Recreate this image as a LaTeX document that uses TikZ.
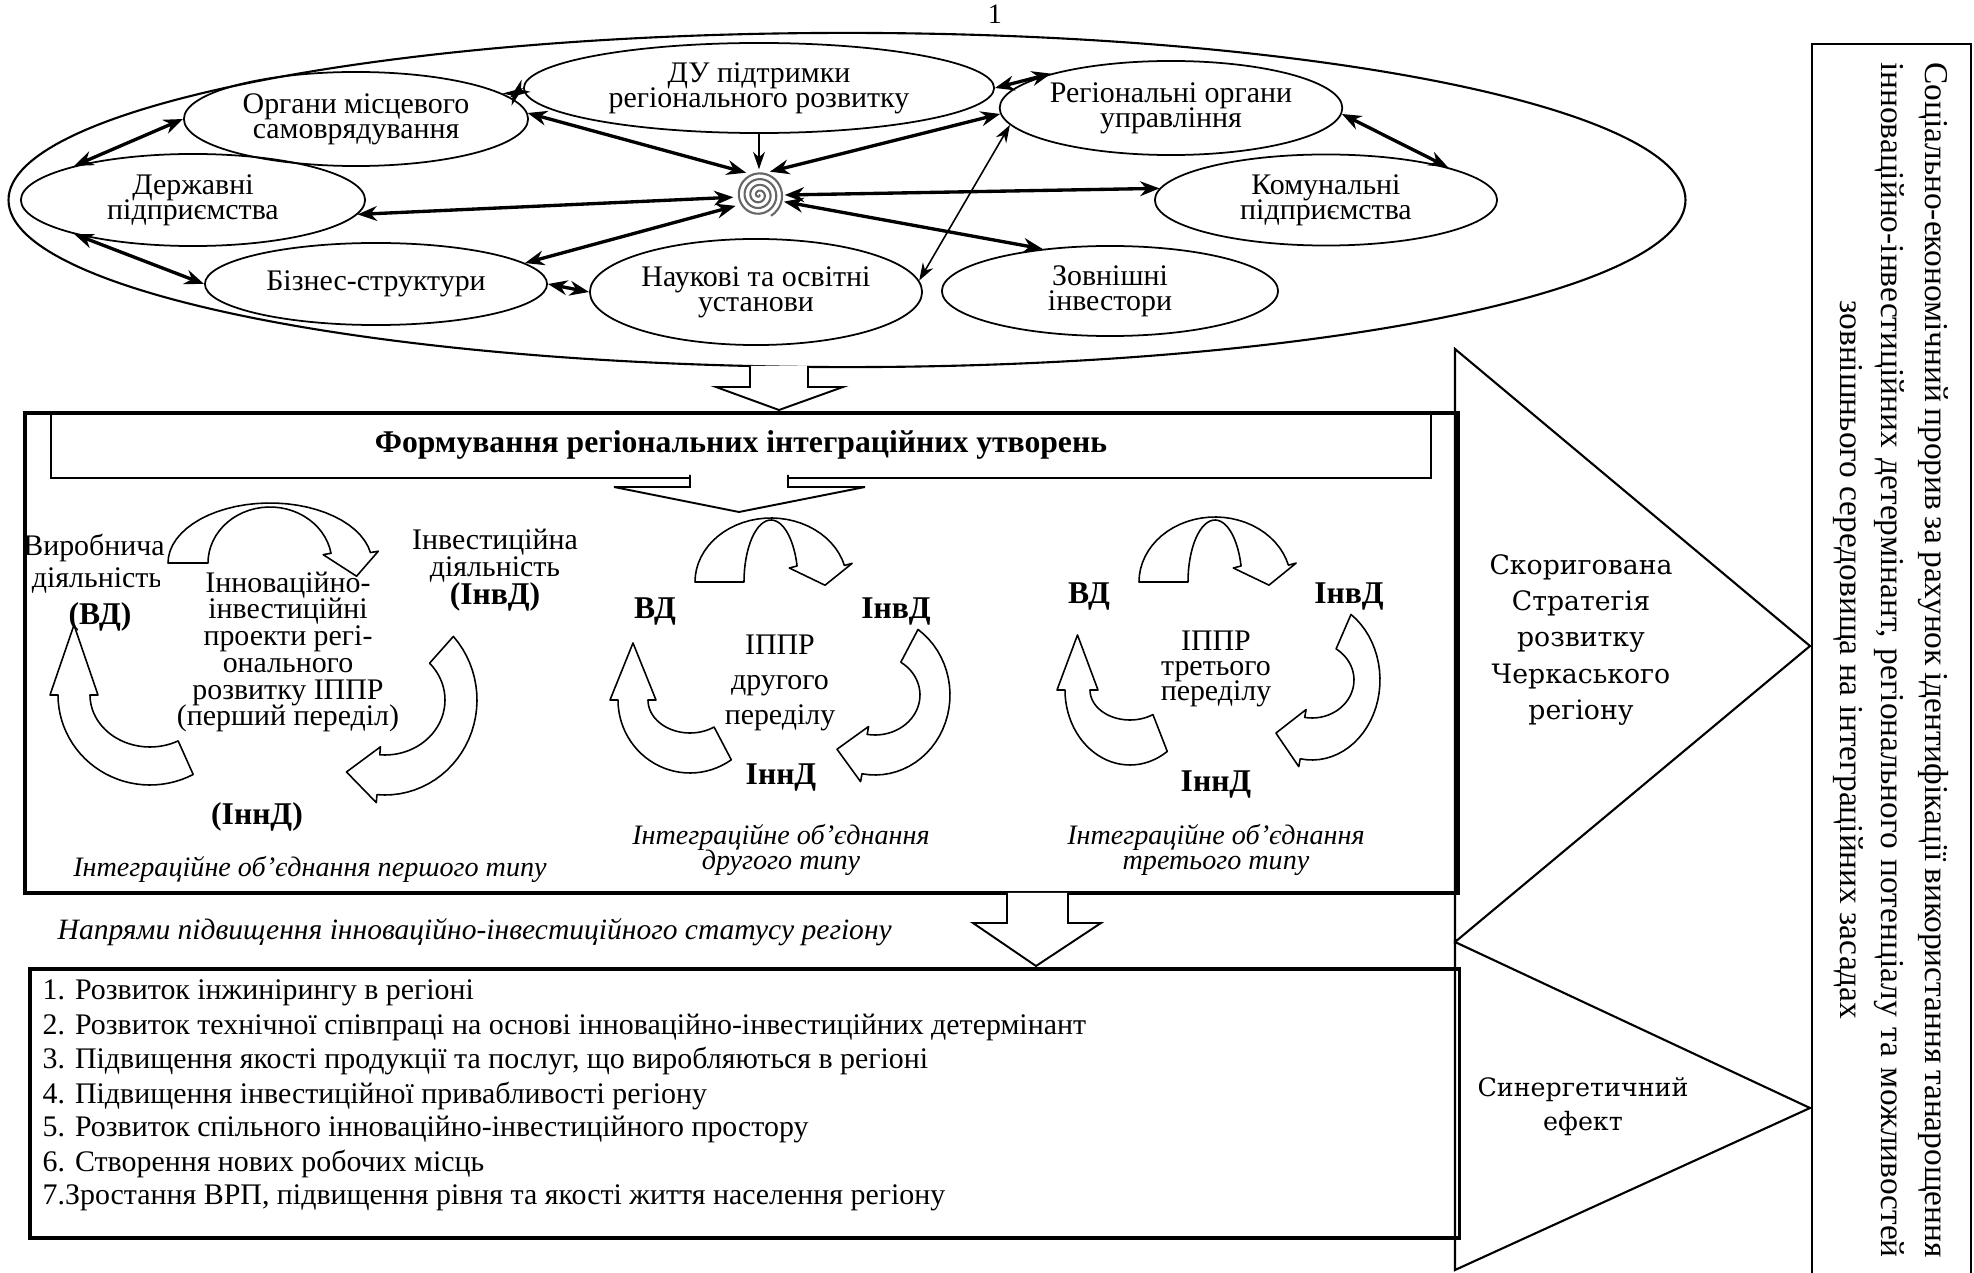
\documentclass[tikz,border=0pt]{standalone}
\usepackage{fontspec}
\setmainfont{Liberation Serif}
\newfontfamily\wideserif{DejaVu Serif}
\usetikzlibrary{positioning,shapes.geometric,arrows.meta}
\setlength{\lineskiplimit}{-10pt}

% curved block arrow along an ellipse: cx,cy,rxo,ryo,rxi,ryi,t1,t2,tip length
\newcommand{\cychead}{8}
\newcommand{\cycarrow}[9]{%
  \pgfmathsetmacro\cmx{(#3+#5)/2}%
  \pgfmathsetmacro\cmy{(#4+#6)/2}%
  \pgfmathsetmacro\ctx{-\cmx*sin(#8)}%
  \pgfmathsetmacro\cty{\cmy*cos(#8)}%
  \pgfmathsetmacro\ctn{sqrt(\ctx*\ctx+\cty*\cty)}%
  \pgfmathsetmacro\tipx{#1+\cmx*cos(#8)+#9*\ctx/\ctn}%
  \pgfmathsetmacro\tipy{#2+\cmy*sin(#8)+#9*\cty/\ctn}%
  \draw[cyc] plot[domain=#7:#8, samples=30] ({#1+#3*cos(\x)},{#2+#4*sin(\x)})
    -- ({#1+(#3+\cychead)*cos(#8)},{#2+(#4+\cychead)*sin(#8)})
    -- (\tipx,\tipy)
    -- ({#1+(#5-\cychead)*cos(#8)},{#2+(#6-\cychead)*sin(#8)})
    -- plot[domain=#8:#7, samples=30] ({#1+#5*cos(\x)},{#2+#6*sin(\x)})
    -- cycle;}

\begin{document}
\begin{tikzpicture}[x=0.01cm, y=-0.01cm,
  org/.style={draw, ellipse, line width=0.5pt, inner sep=0pt, align=center, font=\fontsize{8.5}{7.2}\selectfont},
  link/.style={{Stealth[length=5.5pt,width=4.2pt]}-{Stealth[length=5.5pt,width=4.2pt]}, line width=0.95pt},
  thinlink/.style={{Stealth[length=5pt,width=3.4pt]}-{Stealth[length=5pt,width=3.4pt]}, line width=0.45pt},
  cyc/.style={draw, fill=white, line width=0.45pt, line join=round},
  blk/.style={draw, fill=white, line width=0.55pt},
  lbl/.style={font=\fontsize{8.5}{7.6}\selectfont, align=center, inner sep=0pt},
  bold/.style={font=\fontsize{9}{9}\selectfont\bfseries, inner sep=0pt},
  capt/.style={font=\fontsize{8}{6.9}\selectfont\itshape, align=center, inner sep=0pt}]

\useasboundingbox (0,0) rectangle (1974,1273);

\node[font=\fontsize{8}{8}\selectfont, inner sep=0pt] (pg) at (995,14) {1};

% participants of the region
\node[draw, ellipse, line width=0.6pt, minimum width=16.76cm, minimum height=3.34cm] (region) at (847,200) {};
\node[org, minimum width=3.44cm, minimum height=0.94cm] (osm) at (356,119) {Органи місцевого\\самоврядування};
\node[org, minimum width=4.70cm, minimum height=0.90cm] (du) at (759,88) {ДУ підтримки\\регіонального розвитку};
\node[org, minimum width=3.44cm, minimum height=0.92cm] (dp) at (193,200) {Державні\\підприємства};
\node[org, minimum width=3.42cm, minimum height=0.82cm] (biz) at (376,284) {Бізнес-структури};
\node[org, minimum width=3.32cm, minimum height=1.06cm] (nauk) at (756,292) {Наукові та освітні\\установи};
\node[org, minimum width=3.40cm, minimum height=0.94cm] (rou) at (1171,108) {Регіональні органи\\управління};
\node[org, minimum width=3.42cm, minimum height=0.91cm] (komun) at (1326,200) {Комунальні\\підприємства};
\node[org, minimum width=3.36cm, minimum height=0.90cm] (zinv) at (1110,291) {Зовнішні\\інвестори};

\node[circle, minimum size=0.5cm, inner sep=0pt] (core) at (759,195) {};
\draw[gray!80!black, line width=0.6pt] plot[domain=0:1500, samples=160, variable=\t]
  ({759+\t/1500*24*cos(\t)},{195+\t/1500*24*sin(\t)});

\draw[link] (osm.8) -- (du.180);
\draw[-{Stealth[length=5pt,width=3.4pt]}, line width=0.45pt] (du.south) -- (core.north);
\draw[link] (osm.2) -- (core.120);
\draw[link] (core.65) -- (rou.182);
\draw[thinlink] (rou.186) -- (nauk.4);
\draw[link] (dp.355) -- (core.185);
\draw[link] (core.205) -- (biz.8);
\draw[link] (core.0) -- (komun.176);
\draw[link] (core.345) -- (zinv.148);
\draw[link] (rou.358) -- (komun.15);
\draw[link] (du.0) -- (rou.164);
\draw[link] (osm.180) -- (dp.164);
\draw[link] (dp.196) -- (biz.180);
\draw[link] (biz.0) -- (nauk.180);

\filldraw[blk] (750,366) -- (750,387) -- (716,387) -- (779,410) -- (843,387) -- (808,387) -- (808,366);

% integration block
\node[draw, line width=1.1pt, anchor=north west, minimum width=14.32cm, minimum height=4.8cm, inner sep=0pt] (form) at (23,411) {};
\node[draw, line width=0.6pt, anchor=north west, minimum width=13.79cm, minimum height=0.66cm, inner sep=0pt,
  font=\fontsize{9}{9}\selectfont\bfseries] (head) at (50,411) {Формування регіональних інтеграційних утворень};
\filldraw[blk] (690,475) -- (690,487) -- (614,487) -- (739,512) -- (865,487) -- (788,487) -- (788,475);

\foreach \cx/\cy/\rxo/\ryo/\rxi/\ryi/\ta/\tb/\tl in {
  270/563/102/60/62/56/180/350/24, 385/700/92/95/60/55/-42/95/32, 150/695/92/90/60/52/62/180/70,
  771/582/76/64/27/62/180/345/20, 875/695/75/80/45/40/-55/100/28, 690/700/72/73/42/33/55/180/57,
  1215/582/76/65/27/62/180/345/20, 1312/680/68/80/42/38/-55/100/27, 1130/690/65/75/40/30/55/180/55}
  \cycarrow{\cx}{\cy}{\rxo}{\ryo}{\rxi}{\ryi}{\ta}{\tb}{\tl};

% first type
\node[lbl] (vyr) at (94,548) {Виробнича};
\begin{scope}
  \clip (20,560) rectangle (159,600);
  \node[lbl] (vyr2) at (97,580) {діяльність};
\end{scope}
\node[bold] (vd1) at (100,617) {(ВД)};
\node[lbl] (ippr1) at (288,652) {Інноваційно-\\інвестиційні\\проекти регі-\\онального\\розвитку ІППР\\(перший переділ)};
\node[lbl] (inv1) at (495,556) {Інвестиційна\\діяльність};
\node[bold] (invd1) at (495,597) {(ІнвД)};
\node[bold] (innd1) at (257,817) {(ІннД)};
\node[capt] (cap1) at (310,869) {Інтеграційне об’єднання першого типу};

% second type
\node[bold] (vd2) at (655,612) {ВД};
\node[bold] (invd2) at (896,612) {ІнвД};
\node[lbl, font=\fontsize{8.5}{9.9}\selectfont] (ippr2) at (780,683) {ІППР\\другого\\переділу};
\node[bold] (innd2) at (781,778) {ІннД};
\node[capt] (cap2) at (781,850) {Інтеграційне об’єднання\\другого типу};

% third type
\node[bold] (vd3) at (1089,597) {ВД};
\node[bold] (invd3) at (1349,597) {ІнвД};
\node[lbl, font=\fontsize{8.5}{7.1}\selectfont] (ippr3) at (1216,669) {ІППР\\третього\\переділу};
\node[bold] (innd3) at (1216,785) {ІннД};
\node[capt] (cap3) at (1216,850) {Інтеграційне об’єднання\\третього типу};

% directions
\filldraw[blk] (1007,893) -- (1007,923) -- (973,923) -- (1036,966) -- (1101,923) -- (1068,923) -- (1068,893);
\node[anchor=west, inner sep=0pt, font=\fontsize{8.4}{8.4}\selectfont\itshape] (napr) at (57,932)
  {Напрями підвищення інноваційно-інвестиційного статусу регіону};
\node[draw, line width=1pt, anchor=north west, minimum width=14.29cm, minimum height=2.69cm, inner sep=0pt] (dirs) at (28,967) {};
\foreach \i/\txt in {1/{1. Розвиток інжинірингу в регіоні},
  2/{2. Розвиток технічної співпраці на основі інноваційно-інвестиційних детермінант},
  3/{3. Підвищення якості продукції та послуг, що виробляються в регіоні},
  4/{4. Підвищення інвестиційної привабливості регіону},
  5/{5. Розвиток спільного інноваційно-інвестиційного простору},
  6/{6. Створення нових робочих місць},
  7/{7.Зростання ВРП, підвищення рівня та якості життя населення регіону}}
  \node[anchor=west, inner sep=0pt, font=\fontsize{8.5}{8.5}\selectfont] (d\i) at (42,{993+34.2*(\i-1)}) {\txt};

% results
\draw[line width=0.6pt] (1455,349) -- (1810,646) -- (1455,942) -- cycle;
\draw[line width=0.6pt] (1455,942) -- (1810,1108) -- (1455,1270) -- cycle;
\node[align=center, inner sep=0pt, font=\wideserif\fontsize{7.6}{10.3}\selectfont] (strat) at (1581,640)
  {Скоригована\\Стратегія\\розвитку\\Черкаського\\регіону};
\node[align=center, inner sep=0pt, font=\wideserif\fontsize{7.2}{9.6}\selectfont] (syn) at (1583,1107)
  {Синергетичний\\ефект};

\draw[line width=0.6pt] (1812,1280) -- (1812,44) -- (1971,44) -- (1971,1280);
\node[rotate=-90, inner sep=0pt, font=\fontsize{9.5}{9.5}\selectfont] (goal1) at (1933,660)
  {\makebox[11.95cm][s]{Соціально-економічний прорив за рахунок ідентифікації використання танарощення}};
\node[rotate=-90, inner sep=0pt, font=\fontsize{9.5}{9.5}\selectfont] (goal2) at (1889,660)
  {\makebox[11.95cm][s]{інноваційно-інвестиційних детермінант, регіонального потенціалу та можливостей}};
\node[rotate=-90, inner sep=0pt, font=\fontsize{9.5}{9.5}\selectfont] (goal3) at (1848,660)
  {зовнішнього середовища на інтеграційних засадах};
\end{tikzpicture}
\end{document}
